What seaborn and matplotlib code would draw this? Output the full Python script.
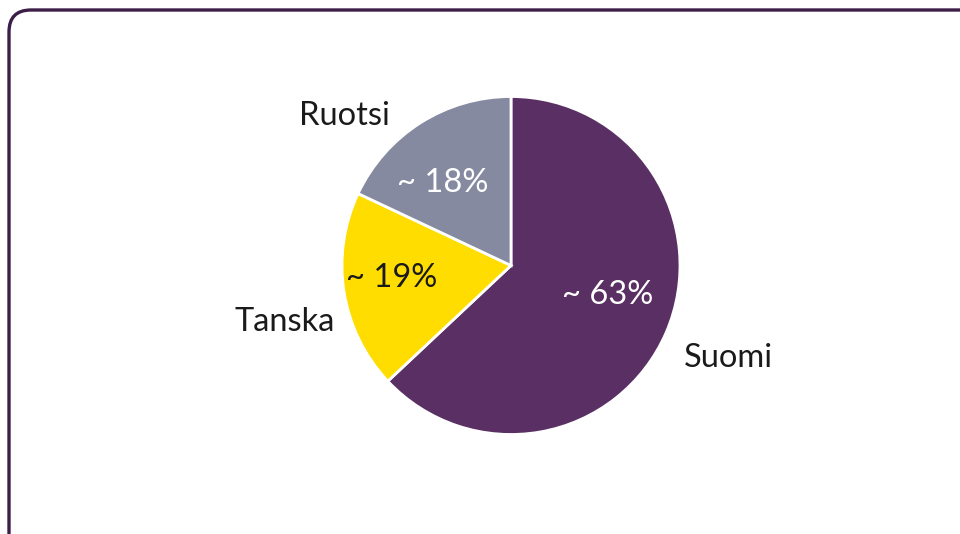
import seaborn as sns
import matplotlib.pyplot as plt
from matplotlib.patches import FancyBboxPatch

sns.set_style('white')
plt.rcParams['font.family'] = ['Lato', 'DejaVu Sans']

maat = ['Suomi', 'Tanska', 'Ruotsi']
osuudet = [63, 19, 18]
prosentit = ['~ 63%', '~ 19%', '~ 18%']
varit = ['#5a2f63', '#ffdd00', '#858aa0']

fig = plt.figure(figsize=(9.6, 5.34), dpi=100)
ax = fig.add_axes([0, 0, 1, 1])

# kehys
kehys = FancyBboxPatch((9, -40), 1000, 564, boxstyle='round,pad=0,rounding_size=22',
                       fill=False, edgecolor='#3d1e48', linewidth=2.4)
ax.add_patch(kehys)

ax.pie(osuudet, colors=varit, startangle=90, counterclock=False,
       center=(511, 268.5), radius=169, frame=True,
       wedgeprops=dict(edgecolor='white', linewidth=2))
ax.set_xlim(0, 960)
ax.set_ylim(0, 534)
ax.set_aspect('equal')
ax.axis('off')

# nimet
nimi_paikat = [(728, 176), (285, 212), (344, 418)]
for nimi, (x, y) in zip(maat, nimi_paikat):
    ax.text(x, y, nimi, ha='center', va='center', fontsize=23.5, color='#1a1a1a')

# prosentit
pros_paikat = [(608, 239), (392, 256), (443, 351)]
pros_varit = ['white', '#1a1a1a', 'white']
for p, (x, y), c in zip(prosentit, pros_paikat, pros_varit):
    ax.text(x, y, p, ha='center', va='center', fontsize=23.5, color=c)

fig.savefig('out.png', dpi=100)
